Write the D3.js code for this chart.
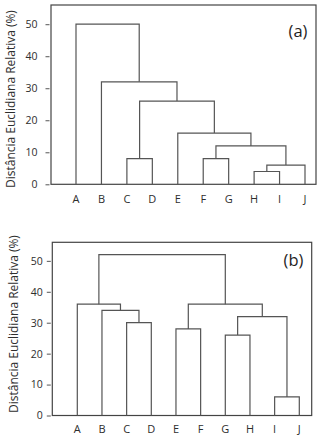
<!DOCTYPE html>
<html>
<head>
<meta charset="utf-8">
<script src="https://cdn.jsdelivr.net/npm/d3@7"></script>
<style>
  html, body { margin: 0; padding: 0; background: #fff; }
  svg { display: block; }
  text { font-family: "Open Sans", "Noto Sans", sans-serif; fill: #2e2e2e; }
</style>
</head>
<body>
<svg id="chart" width="324" height="437"></svg>
<script>
// Leaves of both dendrograms
const categories = ["A", "B", "C", "D", "E", "F", "G", "H", "I", "J"];

// Agglomeration steps (hclust convention: -k = leaf k, +k = step k)
const mergesA = [[-8, -9], [1, -10], [-6, -7], [3, 2], [-5, 4], [-3, -4], [6, 5], [-2, 7], [-1, 8]];
const heightsA = [4, 6, 8, 12, 16, 8, 26, 32, 50];

const mergesB = [[-9, -10], [-7, -8], [-5, -6], [-3, -4], [2, 1], [-2, 4], [-1, 6], [3, 5], [7, 8]];
const heightsB = [6, 26, 28, 30, 32, 34, 36, 36, 52];

const yTicks = [0, 10, 20, 30, 40, 50];
const yTitle = "Distância Euclidiana Relativa (%)";

const svg = d3.select("#chart");

function panel(cfg) {
  const g = svg.append("g");
  const x = d3.scalePoint().domain(categories).range([cfg.leaf0, cfg.leaf1]);
  const y = d3.scaleLinear().domain([0, 56]).range([cfg.bottom, cfg.top]);

  // frame
  g.append("rect")
    .attr("x", cfg.left).attr("y", cfg.top)
    .attr("width", cfg.right - cfg.left).attr("height", cfg.bottom - cfg.top)
    .attr("fill", "none").attr("stroke", "#444").attr("stroke-width", 1.2);

  // y axis ticks and labels
  const yAxis = d3.axisLeft(y).tickValues(yTicks).tickSize(4).tickPadding(cfg.tickPad).tickSizeOuter(0);
  const ag = g.append("g").attr("transform", `translate(${cfg.left - 1.5},0)`).call(yAxis);
  ag.select(".domain").remove();
  ag.selectAll(".tick line").attr("stroke", "#555");
  ag.selectAll(".tick text").attr("font-size", 10.5).style("fill", "#2e2e2e")
    .style("font-family", "'Open Sans', sans-serif");

  // category labels
  g.selectAll("text.cat").data(categories).join("text")
    .attr("class", "cat")
    .attr("x", d => x(d)).attr("y", cfg.catY)
    .attr("text-anchor", "middle").attr("dominant-baseline", "central")
    .attr("font-size", 11).text(d => d);

  // node positions from the merge table
  const pos = [];
  const nodeX = k => k < 0 ? x(categories[-k - 1]) : pos[k - 1].x;
  const nodeH = k => k < 0 ? 0 : pos[k - 1].h;
  const links = [];
  cfg.merges.forEach((m, i) => {
    const h = cfg.heights[i];
    const xl = nodeX(m[0]), xr = nodeX(m[1]);
    links.push({ xl, xr, hl: nodeH(m[0]), hr: nodeH(m[1]), h });
    pos.push({ x: (xl + xr) / 2, h });
  });

  g.selectAll("path.link").data(links).join("path")
    .attr("class", "link")
    .attr("d", d => `M${d.xl},${y(d.hl)}V${y(d.h)}H${d.xr}V${y(d.hr)}`)
    .attr("fill", "none").attr("stroke", "#555").attr("stroke-width", 1.2);

  // panel tag
  g.append("text")
    .attr("x", cfg.tagX).attr("y", cfg.tagY)
    .attr("text-anchor", "middle").attr("dominant-baseline", "central")
    .attr("font-size", 16.5).style("fill", "#1e1e1e").text(cfg.tag);

  // y title, sized so it runs the height of the frame
  const t = g.append("text")
    .attr("transform", `translate(${cfg.titleX},${cfg.titleY}) rotate(-90)`)
    .attr("text-anchor", "middle").attr("dominant-baseline", "central")
    .attr("font-size", 12).text(yTitle);
  const len = t.node().getComputedTextLength();
  t.attr("font-size", 12 * 178 / len);
}

panel({
  left: 51, right: 316, top: 5, bottom: 184.3,
  leaf0: 76, leaf1: 305, tickPad: 8,
  catY: 198, merges: mergesA, heights: heightsA,
  tag: "(a)", tagX: 298, tagY: 30,
  titleX: 10, titleY: 99
});

panel({
  left: 52.3, right: 311.7, top: 242.3, bottom: 415.5,
  leaf0: 77.3, leaf1: 299.3, tickPad: 4,
  catY: 428, merges: mergesB, heights: heightsB,
  tag: "(b)", tagX: 293.5, tagY: 259,
  titleX: 13, titleY: 324
});
</script>
</body>
</html>
